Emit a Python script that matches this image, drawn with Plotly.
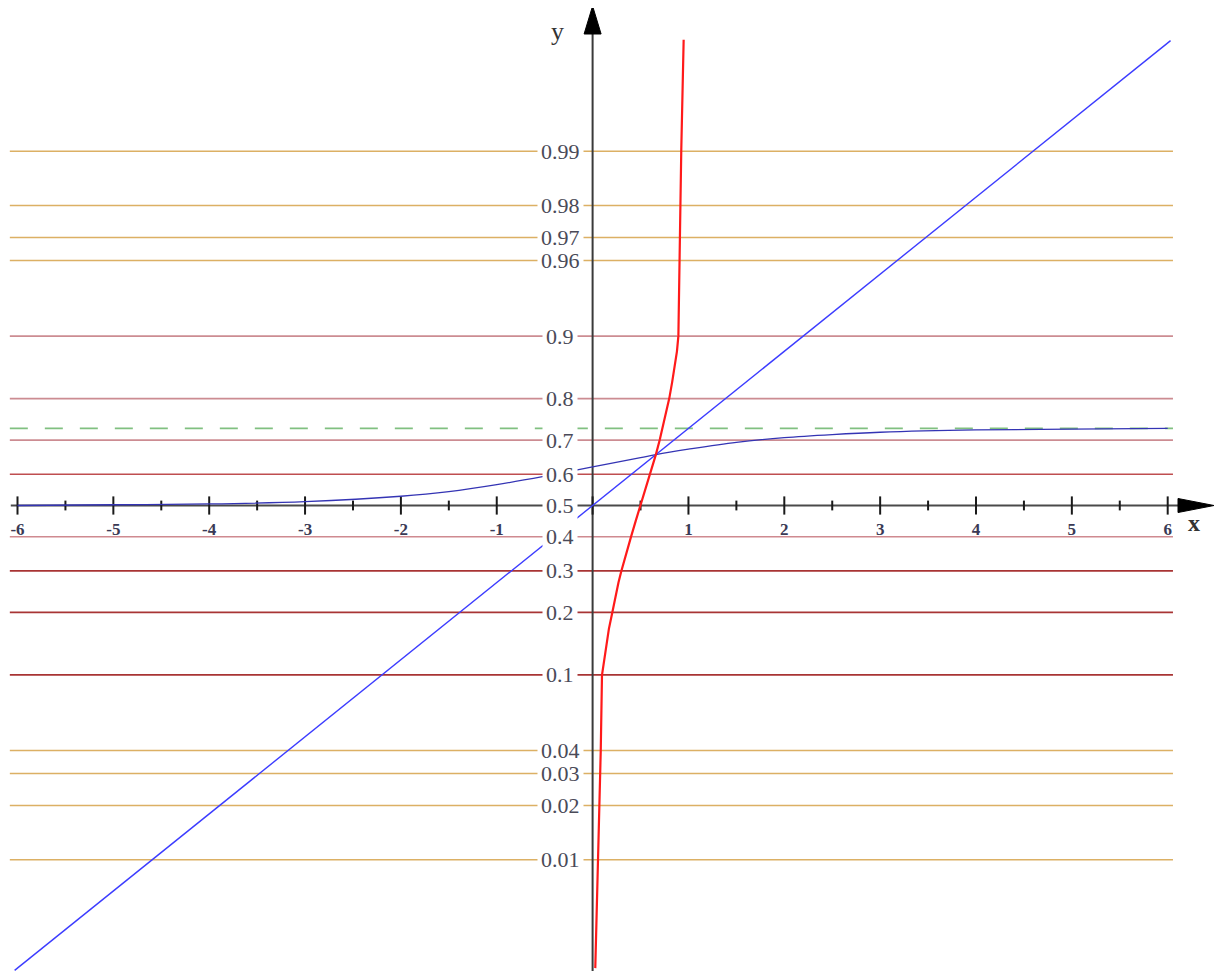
import math
import plotly.graph_objects as go

# ---------------- data ----------------
# probability levels of the horizontal reference lines (y axis is a logit scale)
grid_probs = [0.01, 0.02, 0.03, 0.04, 0.1, 0.2, 0.3, 0.4, 0.5,
              0.6, 0.7, 0.8, 0.9, 0.96, 0.97, 0.98, 0.99]
grid_labels = ["0.01", "0.02", "0.03", "0.04", "0.1", "0.2", "0.3", "0.4", "0.5",
               "0.6", "0.7", "0.8", "0.9", "0.96", "0.97", "0.98", "0.99"]
grid_colors = ["#dcb064", "#dcb064", "#dcb064", "#dcb064",
               "#a83434", "#a83434", "#a83434", "#cf8a90", None,
               "#bf4e50", "#cc8c92", "#cc8c92", "#cc8c92",
               "#dcb064", "#dcb064", "#dcb064", "#dcb064"]

# x axis ticks
x_major = [-6, -5, -4, -3, -2, -1, 0, 1, 2, 3, 4, 5, 6]
x_tick_labels = ["-6", "-5", "-4", "-3", "-2", "-1", "", "1", "2", "3", "4", "5", "6"]
x_minor = [-5.5, -4.5, -3.5, -2.5, -1.5, -0.5, 0.5, 1.5, 2.5, 3.5, 4.5, 5.5]

# diagonal line y = x (y in logit units)
diag_x = [-6.03, 6.03]
diag_y = [-6.03, 6.03]

# S-shaped blue curve (y in logit units)
sig_x = [-6, -5, -4, -3, -2, -1.5, -1, -0.5, 0, 0.5, 0.66, 1, 1.5, 2, 2.5, 3, 4, 5, 6]
sig_y = [0.00, 0.01, 0.02, 0.05, 0.12, 0.18, 0.27, 0.38, 0.50, 0.62, 0.66,
         0.73, 0.82, 0.88, 0.92, 0.95, 0.98, 0.99, 1.00]

# red curve (y in logit units)
red_x = [0.028, 0.059, 0.070, 0.077, 0.085, 0.098, 0.120, 0.142, 0.170,
         0.205, 0.235, 0.25, 0.27, 0.30, 0.354, 0.40, 0.45, 0.50, 0.55,
         0.574, 0.60, 0.62, 0.66, 0.70, 0.73, 0.75, 0.77, 0.80, 0.83,
         0.858, 0.88, 0.895, 0.905, 0.909, 0.915, 0.925, 0.950]
red_y = [-6.0, -4.60, -3.89, -3.48, -3.18, -2.20, -2.00, -1.80, -1.60,
         -1.39, -1.20, -1.10, -1.00, -0.85, -0.60, -0.41, -0.20, 0.00, 0.20,
         0.30, 0.41, 0.50, 0.66, 0.85, 1.00, 1.10, 1.20, 1.39, 1.60,
         1.80, 2.00, 2.20, 3.18, 3.48, 3.89, 4.60, 6.04]

# dashed asymptote (logit units)
asymptote_y = 1.0

# ---------------- geometry helpers ----------------
W, H = 1224, 971
OFF = 8                       # page margin of the html body
X0PX, XSCALE = 592.6 - OFF, 95.85   # pixel of x=0, pixels per x unit
Y0PX, YSCALE = 505.5 - OFF, 77.1    # pixel of y=0, pixels per logit unit
x_range = [-X0PX / XSCALE, (W - X0PX) / XSCALE]
y_range = [(Y0PX - H) / YSCALE, Y0PX / YSCALE]


def px_x(px):
    return (px - OFF - X0PX) / XSCALE


def px_y(py):
    return (Y0PX - (py - OFF)) / YSCALE


def logit(p):
    return math.log(p / (1 - p))


line_x0, line_x1 = -6.08, 6.055

fig = go.Figure()

# horizontal probability lines
for p, c in zip(grid_probs, grid_colors):
    if c is None:
        continue
    v = logit(p)
    fig.add_trace(go.Scatter(x=[line_x0, line_x1], y=[v, v], mode="lines",
                             line=dict(color=c, width=1.6), hoverinfo="skip"))

# dashed asymptote
fig.add_trace(go.Scatter(x=[line_x0, line_x1], y=[asymptote_y, asymptote_y], mode="lines",
                         line=dict(color="#80c080", width=1.6, dash="18px,17px"),
                         hoverinfo="skip"))

# axes lines (x axis at y=0, y axis at x=0)
fig.add_trace(go.Scatter(x=[-6.07, 6.12], y=[0, 0], mode="lines",
                         line=dict(color="#4a4a4a", width=2), hoverinfo="skip"))
fig.add_trace(go.Scatter(x=[0, 0], y=[y_range[0], 6.15], mode="lines",
                         line=dict(color="#3a3a3a", width=2), hoverinfo="skip"))

# x ticks
fig.add_trace(go.Scatter(x=x_major, y=[0] * len(x_major), mode="markers",
                         marker=dict(symbol="line-ns", size=13,
                                     line=dict(color="#1a1a1a", width=2)),
                         hoverinfo="skip"))
fig.add_trace(go.Scatter(x=x_minor, y=[0] * len(x_minor), mode="markers",
                         marker=dict(symbol="line-ns", size=7,
                                     line=dict(color="#1a1a1a", width=2)),
                         hoverinfo="skip"))

# sigmoid curve
fig.add_trace(go.Scatter(x=sig_x, y=sig_y, mode="lines",
                         line=dict(color="#3434b4", width=1.3, shape="spline"),
                         hoverinfo="skip"))
# diagonal
fig.add_trace(go.Scatter(x=diag_x, y=diag_y, mode="lines",
                         line=dict(color="#3c3cff", width=1.4), hoverinfo="skip"))
# red curve
fig.add_trace(go.Scatter(x=red_x, y=red_y, mode="lines",
                         line=dict(color="#ff1a1a", width=2.2),
                         hoverinfo="skip"))

# arrow heads
ax_base, ax_tip, ax_half = px_x(1178), px_x(1214), 7 / YSCALE
ay_base, ay_tip, ay_half = px_y(34), px_y(6), 8.5 / XSCALE
fig.add_shape(type="path", xref="x", yref="y", layer="above",
              path=f"M {ax_base},{ax_half} L {ax_tip},0 L {ax_base},{-ax_half} Z",
              fillcolor="#000000", line=dict(color="#000000", width=1))
fig.add_shape(type="path", xref="x", yref="y", layer="above",
              path=f"M {-ay_half},{ay_base} L 0,{ay_tip} L {ay_half},{ay_base} Z",
              fillcolor="#000000", line=dict(color="#000000", width=1))

# probability labels on the y axis
for p, lab in zip(grid_probs, grid_labels):
    fig.add_annotation(x=-0.34, y=logit(p), text=lab, showarrow=False,
                       xanchor="center", yanchor="middle",
                       font=dict(family="Liberation Serif", size=22, color="#4a4a58"),
                       bgcolor="#ffffff", borderpad=3)

# axis names
fig.add_annotation(x=px_x(1194), y=px_y(523), text="x",
                   showarrow=False, xanchor="center", yanchor="middle",
                   font=dict(family="Liberation Serif", size=24, color="#333333", weight="bold"))
fig.add_annotation(x=px_x(557), y=px_y(31), text="y",
                   showarrow=False, xanchor="center", yanchor="middle",
                   font=dict(family="Liberation Serif", size=26, color="#333333"))

fig.update_layout(
    width=W, height=H,
    margin=dict(l=0, r=0, t=0, b=0),
    plot_bgcolor="#ffffff", paper_bgcolor="#ffffff",
    showlegend=False,
    xaxis=dict(range=x_range, showgrid=False, zeroline=False, showline=False,
               tickmode="array", tickvals=x_major, ticktext=x_tick_labels,
               ticks="outside", ticklen=8, tickcolor="rgba(0,0,0,0)",
               tickfont=dict(family="Liberation Serif", size=17, color="#3a3a55", weight="bold"),
               anchor="free", position=(H - Y0PX) / H, fixedrange=True),
    yaxis=dict(range=y_range, showgrid=False, zeroline=False, showline=False,
               showticklabels=False, ticks="", fixedrange=True),
)

fig.write_html("out.html")
